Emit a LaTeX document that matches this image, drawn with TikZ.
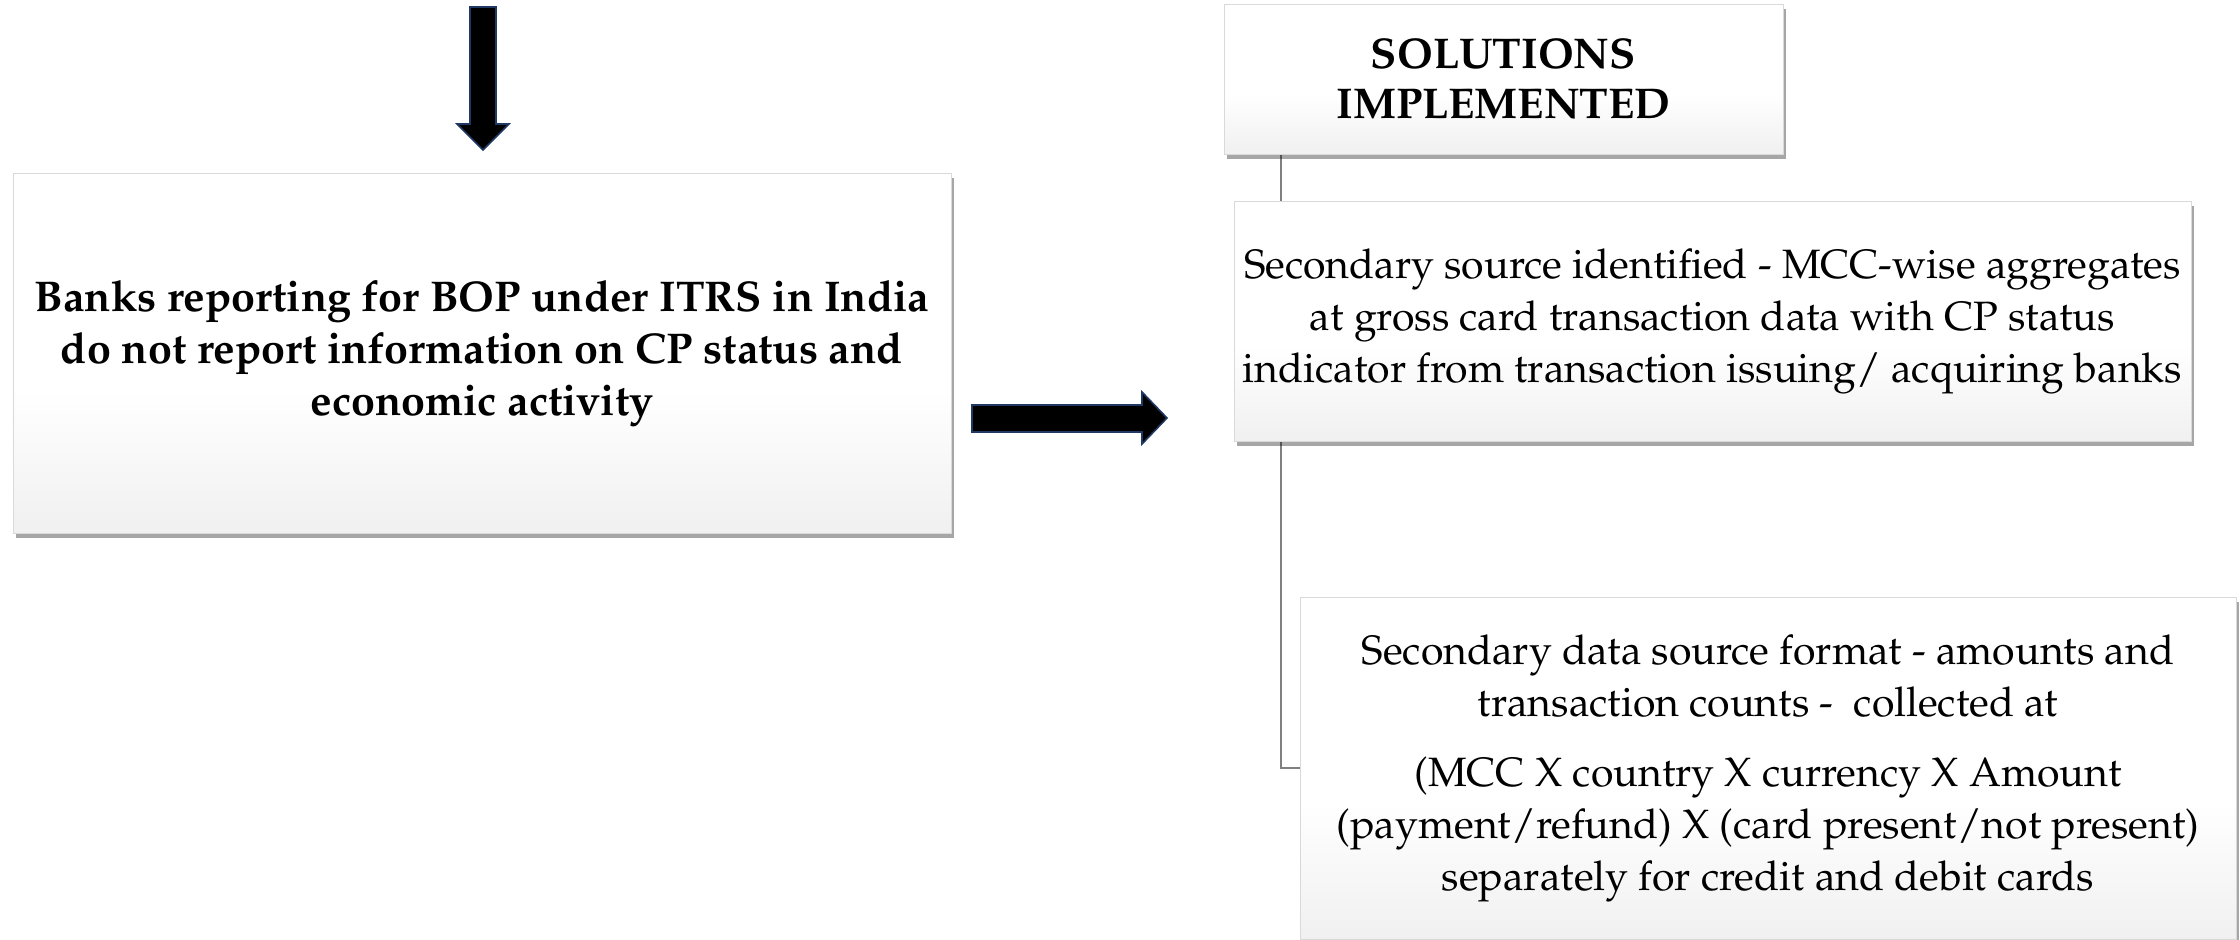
\documentclass[tikz,border=0pt]{standalone}
\usepackage[T1]{fontenc}
\usepackage{mathpazo}
\usetikzlibrary{calc,shadows,backgrounds}
\definecolor{arrowedge}{HTML}{1F3864}
\pgfdeclareverticalshading{cardshade}{100bp}{color(0bp)=(black!13); color(45bp)=(white); color(100bp)=(white)}
\begin{document}
\begin{tikzpicture}[x=0.5pt,y=-0.5pt,
    card/.style={draw=black!15,line width=0.4pt,shading=cardshade,align=center,inner sep=0pt,
        drop shadow={shadow xshift=1.5pt,shadow yshift=-2.5pt,fill=black,opacity=0.35},
        font=\fontsize{20.5}{26}\selectfont},
    blockarrow/.style={fill=black,draw=arrowedge,line width=0.8pt,line join=miter},
    tree/.style={draw=black!50,line width=0.9pt}]
    \useasboundingbox (0,0) rectangle (2240,939);
    \node[card,minimum width=469pt,minimum height=180pt,font=\fontsize{21.5}{26}\selectfont\bfseries](gap) at (482,353)
        {Banks reporting for BOP under ITRS in India\\do not report information on CP status and\\economic activity};
    \node[card,minimum width=279.5pt,minimum height=75pt,font=\fontsize{21.5}{25}\selectfont\bfseries](sol) at (1503.5,79)
        {SOLUTIONS\\IMPLEMENTED};
    \node[card,minimum width=478.5pt,minimum height=120pt](src) at (1712.5,321)
        {Secondary source identified - MCC-wise aggregates\\at gross card transaction data with CP status\\indicator from transaction issuing/ acquiring banks};
    \node[card,minimum width=468pt,minimum height=171pt](fmt) at (1768,768)
        {Secondary data source format - amounts and\\transaction counts -\ \ collected at\\[9pt](MCC X country X currency X Amount\\(payment/refund) X (card present/not present)\\separately for credit and debit cards};
    \begin{scope}[on background layer]
        \draw[tree]($(sol.south west)+(57,0)$)|-(fmt.west);
    \end{scope}
    \draw[blockarrow](470,7)--(496,7)--(496,124)--(509,124)--(483,150)--(457,124)--(470,124)--cycle;
    \draw[blockarrow](972,405)--(1142,405)--(1142,392)--(1167,418)--(1142,444)--(1142,432)--(972,432)--cycle;
\end{tikzpicture}
\end{document}
